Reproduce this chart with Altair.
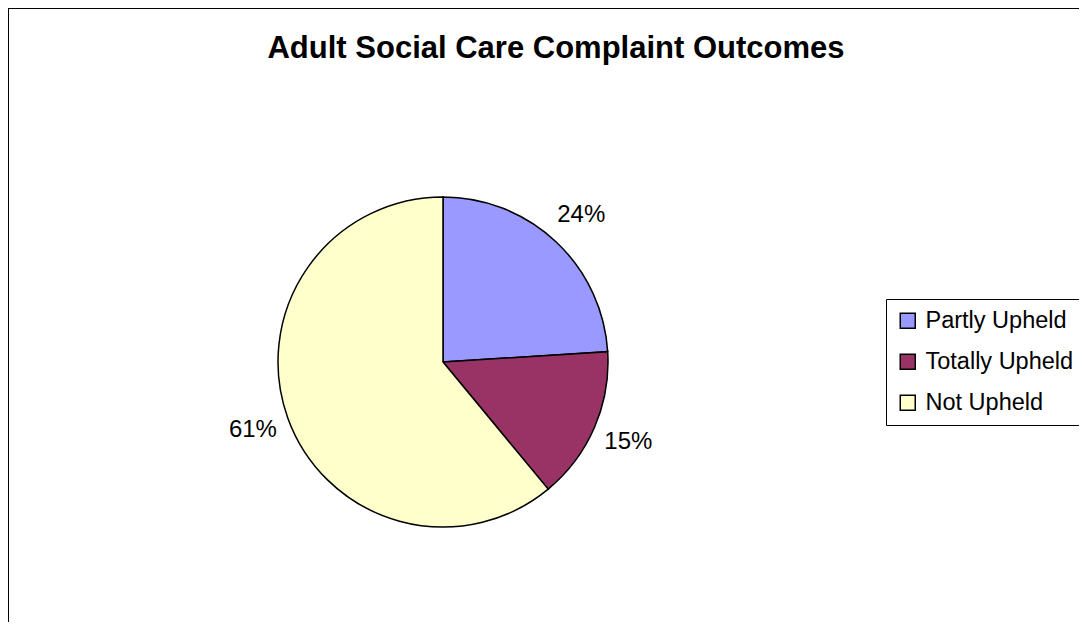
import altair as alt
import pandas as pd

categories = ["Partly Upheld", "Totally Upheld", "Not Upheld"]
values = [24, 15, 61]
labels = ["24%", "15%", "61%"]
order = [0, 1, 2]
colors = ["#9999FF", "#993366", "#FFFFCC"]
title_text = "Adult Social Care Complaint Outcomes"

df = pd.DataFrame({"category": categories, "value": values, "label": labels, "order": order})

# whole chart fits the 1087x630 window (8px page margin each side)
W, H = 1071, 614
CX, CY, R = 435, 354, 165
FONT = "Liberation Sans"

base = alt.Chart(df)

pie = base.mark_arc(stroke="black", strokeWidth=1.5, radius=R).encode(
    theta=alt.Theta("value:Q", stack=True),
    order=alt.Order("order:Q"),
    color=alt.Color(
        "category:N",
        scale=alt.Scale(domain=categories, range=colors),
        sort=categories,
        legend=alt.Legend(
            title=None,
            orient="none",
            legendX=878,
            legendY=291,
            direction="vertical",
            strokeColor="black",
            fillColor="white",
            padding=10,
            symbolType="square",
            symbolSize=225,
            symbolStrokeColor="black",
            symbolStrokeWidth=1.5,
            symbolOffset=0,
            labelFont=FONT,
            labelFontSize=23.5,
            labelColor="black",
            labelOffset=6,
            rowPadding=16,
            labelLimit=400,
        ),
    ),
    x=alt.value(CX),
    y=alt.value(CY),
)

pct = base.mark_text(
    font=FONT, fontSize=24, color="black", align="center", baseline="middle", radius=202
).encode(
    theta=alt.Theta("value:Q", stack=True),
    order=alt.Order("order:Q"),
    text="label:N",
    x=alt.value(CX),
    y=alt.value(CY),
)

title = alt.Chart(pd.DataFrame({"t": [title_text]})).mark_text(
    font=FONT, fontSize=31, fontWeight="bold", color="black", align="center", baseline="alphabetic"
).encode(text="t:N", x=alt.value(548), y=alt.value(50))

# chart-area border (continues past the window on the right and bottom)
frame_df = pd.DataFrame({"k": [0]})
top_edge = alt.Chart(frame_df).mark_rule(color="black", strokeWidth=2).encode(
    x=alt.value(0), x2=alt.value(W), y=alt.value(0)
)
left_edge = alt.Chart(frame_df).mark_rule(color="black", strokeWidth=2).encode(
    x=alt.value(0), y=alt.value(0), y2=alt.value(H)
)

chart = alt.layer(top_edge, left_edge, pie, pct, title).properties(
    width=W, height=H, padding=0, background="white",
    autosize=alt.AutoSizeParams(type="none"),
).configure_view(stroke=None)

chart.save("out.html", embed_options={"renderer": "svg", "actions": False})
